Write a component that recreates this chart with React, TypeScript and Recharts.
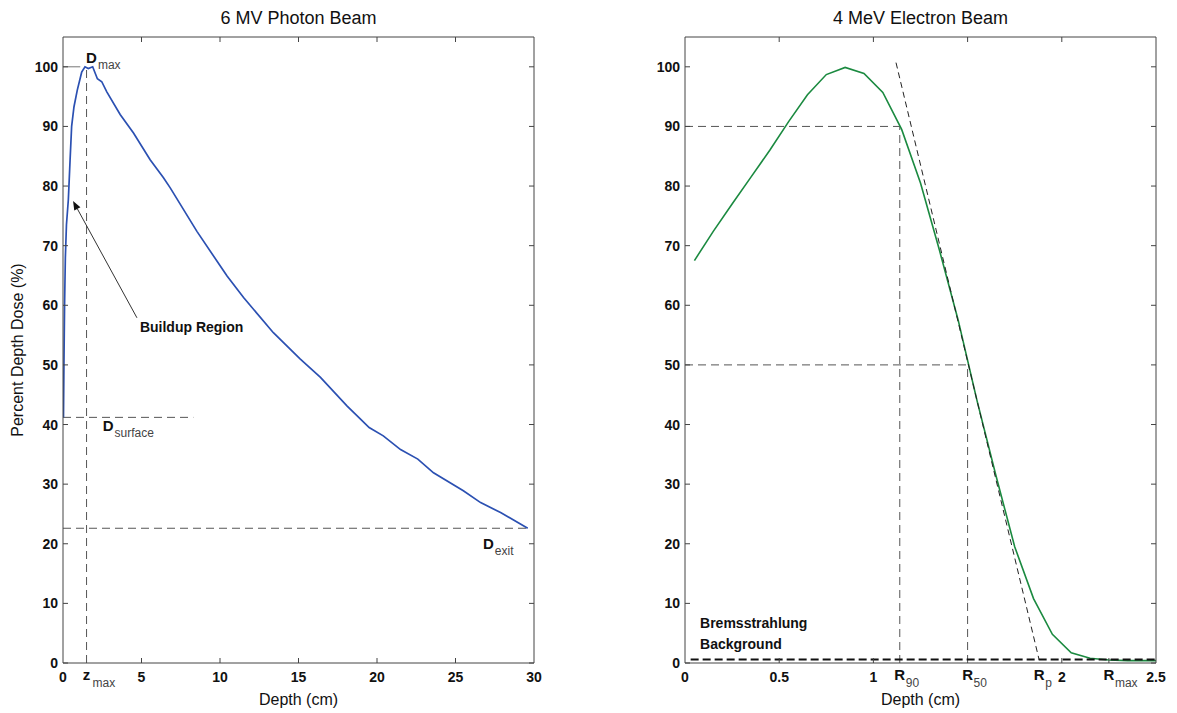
import { LineChart, Line, XAxis, YAxis, ReferenceLine, ReferenceDot } from "recharts";

const FONT = '"Liberation Sans", Arial, Helvetica, sans-serif';
const AXIS = "#444";
const GUIDE = "#555";
const PHOTON_COLOR = "#2b50b2";
const ELECTRON_COLOR = "#1b8a40";

// 6 MV photon beam depth dose
const photonDepth = [
  0.03, 0.06, 0.1, 0.15, 0.22, 0.34, 0.45, 0.55, 0.7, 0.91, 1.19, 1.4, 1.61, 1.89,
  2.19, 2.47, 2.79, 3.64, 4.49, 5.55, 6.4, 6.83, 8.53, 10.45, 11.5, 13.4, 15.1,
  16.4, 18.1, 18.95, 19.5, 20.4, 21.5, 22.6, 23.6, 25.5, 26.6, 27.9, 29.6,
];
const photonDose = [
  41.2, 50, 60, 68, 73.5, 77.7, 84.3, 90, 93.3, 96.1, 99.1, 100, 99.7, 100,
  98, 97.5, 95.8, 92, 88.9, 84.4, 81.4, 79.7, 72.4, 64.9, 61.3, 55.4, 51,
  47.9, 43.1, 40.9, 39.5, 38.1, 35.8, 34.2, 31.9, 28.9, 26.9, 25.2, 22.6,
];
const ZMAX = 1.5;
const photonTicks = [0, ZMAX, 5, 10, 15, 20, 25, 30];
const photonTopTicks = [5, 10, 15, 20, 25];

// 4 MeV electron beam depth dose
const electronDepth = [
  0.05, 0.15, 0.25, 0.35, 0.45, 0.55, 0.65, 0.75, 0.85, 0.95, 1.05, 1.15, 1.25,
  1.35, 1.45, 1.55, 1.65, 1.75, 1.85, 1.95, 2.05, 2.15, 2.25, 2.35, 2.45, 2.5,
];
const electronDose = [
  67.5, 72.4, 77, 81.5, 86, 90.8, 95.3, 98.7, 99.9, 98.9, 95.7, 89.5, 80.5,
  69.3, 57.5, 44, 31.5, 19.5, 10.8, 4.8, 1.7, 0.8, 0.5, 0.4, 0.4, 0.4,
];
const R90 = 1.14;
const R50 = 1.5;
const RP = 1.88;
const RMAX = 2.25;
const electronTicks = [0, 0.5, 1, R90, R50, RP, 2, RMAX, 2.5];
const electronTopTicks = [0.5, 1, 1.5, 2];

const doseTicks = [0, 10, 20, 30, 40, 50, 60, 70, 80, 90, 100];

const photonData = photonDepth.map((d, i) => ({ depth: d, dose: photonDose[i] }));
const electronData = electronDepth.map((d, i) => ({ depth: d, dose: electronDose[i] }));

const photonSubTicks: Record<number, [string, string]> = {
  [ZMAX]: ["z", "max"],
};
const electronSubTicks: Record<number, [string, string]> = {
  [R90]: ["R", "90"],
  [R50]: ["R", "50"],
  [RP]: ["R", "p"],
  [RMAX]: ["R", "max"],
};

const LeftTick = ({ x, y, payload }: any) => (
  <g>
    <line x1={x} x2={x + 5} y1={y} y2={y} stroke={AXIS} />
    <text x={x - 5} y={y + 5} textAnchor="end" fontSize={14} fontWeight="bold" fontFamily={FONT} fill="#111">
      {payload.value}
    </text>
  </g>
);

const RightTick = ({ x, y }: any) => <line x1={x} x2={x - 5} y1={y} y2={y} stroke={AXIS} />;

const TopTick = ({ x, y }: any) => <line x1={x} x2={x} y1={y} y2={y + 5} stroke={AXIS} />;

const makeBottomTick = (
  subs: Record<number, [string, string]>,
  lo: number,
  hi: number,
  noLine: number[],
) => ({ x, y, payload }: any) => {
  const v = payload.value;
  const sub = subs[v];
  const showLine = v !== lo && v !== hi && !noLine.includes(v);
  return (
    <g>
      {showLine && <line x1={x} x2={x} y1={y} y2={y - 5} stroke={AXIS} />}
      {sub ? (
        <g fontFamily={FONT}>
          <text x={x} y={y + 17} textAnchor="middle" fontSize={15} fontWeight="bold" fill="#111">
            {sub[0]}
          </text>
          <text x={x + 6} y={y + 24} textAnchor="start" fontSize={12} fill="#444">
            {sub[1]}
          </text>
        </g>
      ) : (
        <text x={x} y={y + 19} textAnchor="middle" fontSize={14} fontWeight="bold" fontFamily={FONT} fill="#111">
          {v}
        </text>
      )}
    </g>
  );
};

const PhotonBottomTick = makeBottomTick(photonSubTicks, 0, 30, [ZMAX]);
const ElectronBottomTick = makeBottomTick(electronSubTicks, 0, 2.5, [R90, R50, RP]);

const SubLabel = ({ viewBox, main, sub }: any) => {
  const x = viewBox.x + viewBox.width / 2;
  const y = viewBox.y + viewBox.height / 2;
  return (
    <text x={x} y={y} fontFamily={FONT}>
      <tspan fontSize={15} fontWeight="bold" fill="#111">{main}</tspan>
      <tspan fontSize={12} dx={1} dy={6} fill="#444">{sub}</tspan>
    </text>
  );
};

const TextLabel = ({ viewBox, lines }: any) => {
  const x = viewBox.x + viewBox.width / 2;
  const y = viewBox.y + viewBox.height / 2;
  return (
    <text x={x} y={y} fontFamily={FONT} fontSize={14} fontWeight="bold" fill="#111">
      {lines.map((l: string, i: number) => (
        <tspan key={i} x={x} dy={i === 0 ? 0 : 21}>{l}</tspan>
      ))}
    </text>
  );
};

const Arrow = (props: any) => {
  const { x1, y1, x2, y2 } = props;
  const ang = Math.atan2(y2 - y1, x2 - x1);
  const len = 9;
  const w = 3.5;
  const bx = x2 - len * Math.cos(ang);
  const by = y2 - len * Math.sin(ang);
  const px = -Math.sin(ang) * w;
  const py = Math.cos(ang) * w;
  return (
    <g>
      <line x1={x1} y1={y1} x2={bx} y2={by} stroke="#333" strokeWidth={1} />
      <polygon points={`${x2},${y2} ${bx + px},${by + py} ${bx - px},${by - py}`} fill="#111" />
    </g>
  );
};

const dashed = { stroke: GUIDE, strokeDasharray: "8 5", strokeWidth: 1 };

function PhotonChart() {
  return (
    <LineChart width={560} height={713} data={photonData} margin={{ top: 7, right: 6, bottom: 0, left: 0 }}>
      <XAxis
        dataKey="depth" type="number" domain={[0, 30]} ticks={photonTicks} interval={0}
        height={50} tickSize={0} tickMargin={0} tickLine={false} axisLine={{ stroke: AXIS }}
        tick={PhotonBottomTick} allowDataOverflow
      />
      <XAxis
        xAxisId="t" orientation="top" dataKey="depth" type="number" domain={[0, 30]}
        ticks={photonTopTicks} interval={0} height={30} tickSize={0} tickMargin={0}
        tickLine={false} axisLine={{ stroke: AXIS }} tick={TopTick} allowDataOverflow
      />
      <YAxis
        type="number" domain={[0, 105]} ticks={doseTicks} interval={0} width={63}
        tickSize={0} tickMargin={0} tickLine={false} axisLine={{ stroke: AXIS }}
        tick={LeftTick} allowDataOverflow
      />
      <YAxis
        yAxisId="r" orientation="right" type="number" domain={[0, 105]} ticks={doseTicks}
        interval={0} width={20} tickSize={0} tickMargin={0} tickLine={false}
        axisLine={{ stroke: AXIS }} tick={RightTick} allowDataOverflow
      />
      <ReferenceLine segment={[{ x: 0, y: 100 }, { x: 1.1, y: 100 }]} stroke="#777" />
      <ReferenceLine segment={[{ x: ZMAX, y: 0 }, { x: ZMAX, y: 100 }]} {...dashed} />
      <ReferenceLine segment={[{ x: 0, y: 41.2 }, { x: 8.3, y: 41.2 }]} {...dashed} />
      <ReferenceLine segment={[{ x: 0, y: 22.6 }, { x: 29.6, y: 22.6 }]} {...dashed} />
      <ReferenceLine segment={[{ x: 4.71, y: 57.9 }, { x: 0.64, y: 77.5 }]} shape={Arrow} />
      <Line
        type="linear" dataKey="dose" stroke={PHOTON_COLOR} strokeWidth={1.7}
        dot={false} isAnimationActive={false}
      />
      <ReferenceDot x={1.47} y={100.6} r={0} fill="none" stroke="none" label={<SubLabel main="D" sub="max" />} />
      <ReferenceDot x={2.53} y={38.9} r={0} fill="none" stroke="none" label={<SubLabel main="D" sub="surface" />} />
      <ReferenceDot x={26.75} y={19.2} r={0} fill="none" stroke="none" label={<SubLabel main="D" sub="exit" />} />
      <ReferenceDot x={4.9} y={55.5} r={0} fill="none" stroke="none" label={<TextLabel lines={["Buildup Region"]} />} />
    </LineChart>
  );
}

function ElectronChart() {
  return (
    <LineChart width={555} height={713} data={electronData} margin={{ top: 7, right: 1, bottom: 0, left: 0 }}>
      <XAxis
        dataKey="depth" type="number" domain={[0, 2.5]} ticks={electronTicks} interval={0}
        height={50} tickSize={0} tickMargin={0} tickLine={false} axisLine={{ stroke: AXIS }}
        tick={ElectronBottomTick} allowDataOverflow
      />
      <XAxis
        xAxisId="t" orientation="top" dataKey="depth" type="number" domain={[0, 2.5]}
        ticks={electronTopTicks} interval={0} height={30} tickSize={0} tickMargin={0}
        tickLine={false} axisLine={{ stroke: AXIS }} tick={TopTick} allowDataOverflow
      />
      <YAxis
        type="number" domain={[0, 105]} ticks={doseTicks} interval={0} width={63}
        tickSize={0} tickMargin={0} tickLine={false} axisLine={{ stroke: AXIS }}
        tick={LeftTick} allowDataOverflow
      />
      <YAxis
        yAxisId="r" orientation="right" type="number" domain={[0, 105]} ticks={doseTicks}
        interval={0} width={20} tickSize={0} tickMargin={0} tickLine={false}
        axisLine={{ stroke: AXIS }} tick={RightTick} allowDataOverflow
      />
      <ReferenceLine segment={[{ x: 0, y: 90 }, { x: R90, y: 90 }]} {...dashed} />
      <ReferenceLine segment={[{ x: R90, y: 0 }, { x: R90, y: 90 }]} {...dashed} />
      <ReferenceLine segment={[{ x: 0, y: 50 }, { x: R50, y: 50 }]} {...dashed} />
      <ReferenceLine segment={[{ x: R50, y: 0 }, { x: R50, y: 50 }]} {...dashed} />
      <Line
        type="linear" dataKey="dose" stroke={ELECTRON_COLOR} strokeWidth={1.6}
        dot={false} isAnimationActive={false}
      />
      <ReferenceLine
        segment={[{ x: 1.12, y: 100.7 }, { x: RP, y: 0.5 }]}
        stroke="#222" strokeDasharray="6 4" strokeWidth={1}
      />
      <ReferenceLine
        segment={[{ x: 0.03, y: 0.6 }, { x: 2.5, y: 0.6 }]}
        stroke="#111" strokeDasharray="8 4" strokeWidth={2}
      />
      <ReferenceDot x={0.08} y={5.9} r={0} fill="none" stroke="none" label={<TextLabel lines={["Bremsstrahlung", "Background"]} />} />
    </LineChart>
  );
}

export default function App() {
  return (
    <div style={{ position: "absolute", left: 0, top: 0, width: 1177, height: 713, background: "#fff" }}>
      <div style={{ position: "absolute", left: 0, top: 0 }}>
        <PhotonChart />
      </div>
      <div style={{ position: "absolute", left: 622, top: 0 }}>
        <ElectronChart />
      </div>
      <svg
        width={1177} height={713}
        style={{ position: "absolute", left: 0, top: 0, pointerEvents: "none" }}
        fontFamily={FONT} fill="#111"
      >
        <text x={298.5} y={24} textAnchor="middle" fontSize={18}>6 MV Photon Beam</text>
        <text x={920.5} y={24} textAnchor="middle" fontSize={18}>4 MeV Electron Beam</text>
        <text x={298.5} y={705} textAnchor="middle" fontSize={16}>Depth (cm)</text>
        <text x={920.5} y={705} textAnchor="middle" fontSize={16}>Depth (cm)</text>
        <text transform="translate(23,350) rotate(-90)" textAnchor="middle" fontSize={16}>
          Percent Depth Dose (%)
        </text>
      </svg>
    </div>
  );
}
